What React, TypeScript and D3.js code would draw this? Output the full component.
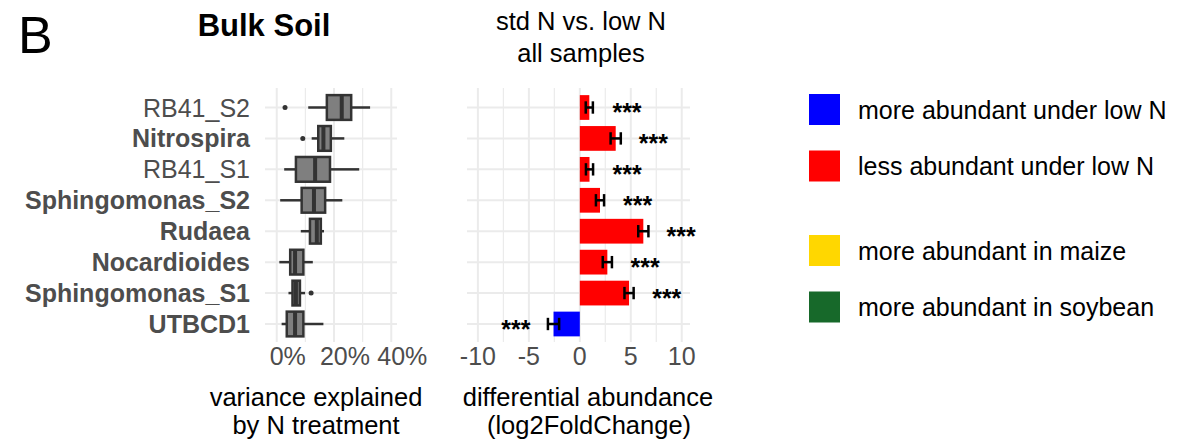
import React, { useEffect, useRef } from "react";
import * as d3 from "d3";

// taxa, top to bottom
const taxa = ["RB41_S2", "Nitrospira", "RB41_S1", "Sphingomonas_S2", "Rudaea", "Nocardioides", "Sphingomonas_S1", "UTBCD1"];
const boldTaxa = ["Nitrospira", "Sphingomonas_S2", "Rudaea", "Nocardioides", "Sphingomonas_S1", "UTBCD1"];

// variance explained by N treatment (%), boxplot stats
const whiskerLow = [11.0, 12.2, 2.6, 1.2, 8.4, 0.9, 4.1, 1.7];
const quart1 = [17.5, 14.5, 6.7, 8.7, 11.6, 4.7, 5.5, 3.5];
const medians = [22.7, 16.3, 13.4, 13.0, 14.0, 6.4, 6.7, 6.4];
const quart3 = [26.0, 18.9, 18.6, 16.9, 15.4, 9.3, 8.1, 9.3];
const whiskerHigh = [32.6, 23.6, 28.8, 22.9, 16.5, 12.6, 9.9, 16.3];
const outlierTaxa = ["RB41_S2", "Nitrospira", "Sphingomonas_S1"];
const outlierValues = [2.9, 9.1, 12.0];
const boxTicks = [0, 20, 40];
const boxMinorTicks = [10, 30];

// differential abundance, std N vs. low N
const log2FC = [0.93, 3.52, 0.95, 1.98, 6.23, 2.7, 4.83, -2.58];
const lfcSE = [0.35, 0.5, 0.35, 0.4, 0.5, 0.45, 0.45, 0.55];
const signif = ["***", "***", "***", "***", "***", "***", "***", "***"];
const lfcTicks = [-10, -5, 0, 5, 10];
const lfcMinorTicks = [-7.5, -2.5, 2.5, 7.5];

// legend
const legendLabels = ["more abundant under low N", "less abundant under low N", "more abundant in maize", "more abundant in soybean"];
const legendColors = ["#0000FF", "#FF0000", "#FFD700", "#17692A"];

const font = "'Liberation Sans', Arial, Helvetica, sans-serif";
const grid = "#EBEBEB";
const dark = "#333333";

export default function App() {
  const ref = useRef<SVGSVGElement>(null);

  useEffect(() => {
    const svg = d3.select(ref.current);
    svg.selectAll("*").remove();
    svg.style("font-family", font);

    const top = 88, bottom = 342;
    const y = d3.scalePoint().domain(taxa).range([107.5, 324]);
    const step = y.step();

    // ---- boxplot panel
    const xb = d3.scaleLinear().domain([-4.1, 42]).range([265, 397]);
    const gb = svg.append("g");

    gb.selectAll(".minor").data(boxMinorTicks).enter().append("line")
      .attr("x1", d => xb(d)).attr("x2", d => xb(d))
      .attr("y1", top).attr("y2", bottom)
      .attr("stroke", grid).attr("stroke-width", 1.2);
    gb.selectAll(".major").data(boxTicks).enter().append("line")
      .attr("x1", d => xb(d)).attr("x2", d => xb(d))
      .attr("y1", top).attr("y2", bottom)
      .attr("stroke", grid).attr("stroke-width", 2);
    gb.selectAll(".hgrid").data(taxa).enter().append("line")
      .attr("x1", 265).attr("x2", 397)
      .attr("y1", d => y(d)!).attr("y2", d => y(d)!)
      .attr("stroke", grid).attr("stroke-width", 2);

    const bh = step * 0.8;
    taxa.forEach((t, i) => {
      const cy = y(t)!;
      gb.append("line")
        .attr("x1", xb(whiskerLow[i])).attr("x2", xb(quart1[i]))
        .attr("y1", cy).attr("y2", cy)
        .attr("stroke", dark).attr("stroke-width", 2.5);
      gb.append("line")
        .attr("x1", xb(quart3[i])).attr("x2", xb(whiskerHigh[i]))
        .attr("y1", cy).attr("y2", cy)
        .attr("stroke", dark).attr("stroke-width", 2.5);
      gb.append("rect")
        .attr("x", xb(quart1[i])).attr("width", xb(quart3[i]) - xb(quart1[i]))
        .attr("y", cy - bh / 2).attr("height", bh)
        .attr("fill", "#7F7F7F").attr("stroke", dark).attr("stroke-width", 2.5);
      gb.append("line")
        .attr("x1", xb(medians[i])).attr("x2", xb(medians[i]))
        .attr("y1", cy - bh / 2).attr("y2", cy + bh / 2)
        .attr("stroke", dark).attr("stroke-width", 4);
    });
    gb.selectAll(".outlier").data(outlierValues).enter().append("circle")
      .attr("cx", d => xb(d)).attr("cy", (d, i) => y(outlierTaxa[i])!)
      .attr("r", 2.5).attr("fill", dark);

    // category labels
    svg.selectAll(".ylab").data(taxa).enter().append("text")
      .attr("x", 250).attr("y", d => y(d)!).attr("dy", "0.36em")
      .attr("text-anchor", "end")
      .attr("font-size", 25)
      .attr("font-weight", d => boldTaxa.includes(d) ? "bold" : "normal")
      .attr("fill", "#4D4D4D")
      .text(d => d);

    gb.selectAll(".xlab").data(boxTicks).enter().append("text")
      .attr("x", d => xb(d) + 11).attr("y", 365)
      .attr("text-anchor", "middle").attr("font-size", 25).attr("fill", "#4D4D4D")
      .text(d => d + "%");

    // ---- differential abundance panel
    const xl = d3.scaleLinear().domain([-11.07, 10.81]).range([467, 690]);
    const gl = svg.append("g");

    gl.selectAll(".minor").data(lfcMinorTicks).enter().append("line")
      .attr("x1", d => xl(d)).attr("x2", d => xl(d))
      .attr("y1", top).attr("y2", bottom)
      .attr("stroke", grid).attr("stroke-width", 1.2);
    gl.selectAll(".major").data(lfcTicks).enter().append("line")
      .attr("x1", d => xl(d)).attr("x2", d => xl(d))
      .attr("y1", top).attr("y2", bottom)
      .attr("stroke", grid).attr("stroke-width", 2);
    gl.selectAll(".hgrid").data(taxa).enter().append("line")
      .attr("x1", 467).attr("x2", 690)
      .attr("y1", d => y(d)!).attr("y2", d => y(d)!)
      .attr("stroke", grid).attr("stroke-width", 2);

    gl.selectAll(".bar").data(log2FC).enter().append("rect")
      .attr("x", d => xl(Math.min(0, d)))
      .attr("width", d => Math.abs(xl(d) - xl(0)))
      .attr("y", (d, i) => y(taxa[i])! - bh / 2)
      .attr("height", bh)
      .attr("fill", d => d < 0 ? legendColors[0] : legendColors[1]);

    const cap = step * 0.4;
    log2FC.forEach((v, i) => {
      const cy = y(taxa[i])!;
      const lo = xl(v - lfcSE[i]), hi = xl(v + lfcSE[i]);
      gl.append("line").attr("x1", lo).attr("x2", hi).attr("y1", cy).attr("y2", cy)
        .attr("stroke", "black").attr("stroke-width", 2.5);
      [lo, hi].forEach(x => {
        gl.append("line").attr("x1", x).attr("x2", x)
          .attr("y1", cy - cap / 2).attr("y2", cy + cap / 2)
          .attr("stroke", "black").attr("stroke-width", 2.5);
      });
      gl.append("text")
        .attr("x", xl(v + (v < 0 ? -3.7 : 3.7))).attr("y", cy).attr("dy", "0.55em")
        .attr("text-anchor", "middle").attr("font-size", 25).attr("font-weight", "bold")
        .text(signif[i]);
    });

    gl.selectAll(".xlab").data(lfcTicks).enter().append("text")
      .attr("x", d => xl(d)).attr("y", 365)
      .attr("text-anchor", "middle").attr("font-size", 25).attr("fill", "#4D4D4D")
      .text(d => d < 0 ? "-" + Math.abs(d) : String(d));

    // ---- titles
    svg.append("text").attr("x", 18).attr("y", 53).attr("font-size", 52).text("B");
    svg.append("text").attr("x", 264).attr("y", 36).attr("text-anchor", "middle")
      .attr("font-size", 31).attr("font-weight", "bold").text("Bulk Soil");
    svg.append("text").attr("x", 581).attr("y", 30).attr("text-anchor", "middle")
      .attr("font-size", 25.5).text("std N vs. low N");
    svg.append("text").attr("x", 581).attr("y", 62).attr("text-anchor", "middle")
      .attr("font-size", 25.5).text("all samples");

    svg.append("text").attr("x", 316).attr("y", 406).attr("text-anchor", "middle")
      .attr("font-size", 25.5).text("variance explained");
    svg.append("text").attr("x", 316).attr("y", 434).attr("text-anchor", "middle")
      .attr("font-size", 25.5).text("by N treatment");
    svg.append("text").attr("x", 588).attr("y", 406).attr("text-anchor", "middle")
      .attr("font-size", 25.5).text("differential abundance");
    svg.append("text").attr("x", 589).attr("y", 434).attr("text-anchor", "middle")
      .attr("font-size", 25.5).text("(log2FoldChange)");

    // ---- legend
    const legendY = [94, 150.5, 235, 291.5];
    const lg = svg.append("g");
    lg.selectAll("rect").data(legendLabels).enter().append("rect")
      .attr("x", 809).attr("y", (d, i) => legendY[i])
      .attr("width", 31).attr("height", 31)
      .attr("fill", (d, i) => legendColors[i]);
    lg.selectAll("text").data(legendLabels).enter().append("text")
      .attr("x", 858).attr("y", (d, i) => legendY[i] + 15.5).attr("dy", "0.36em")
      .attr("font-size", 25).text(d => d);
  }, []);

  return (
    <svg ref={ref} width={1189} height={442}
      style={{ position: "absolute", left: 0, top: 0, background: "white" }} />
  );
}
